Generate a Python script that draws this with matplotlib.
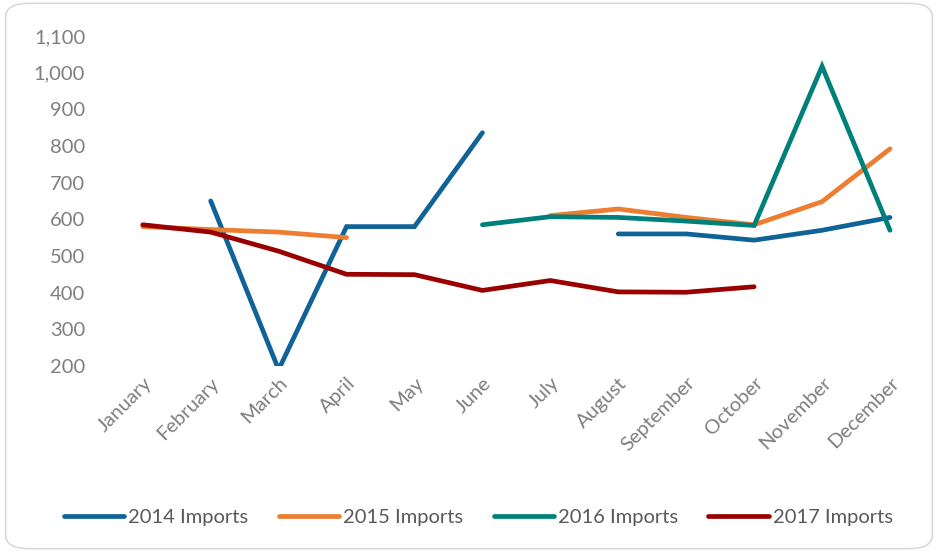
import numpy as np
import matplotlib
matplotlib.use("Agg")
import matplotlib.pyplot as plt
from matplotlib.patches import FancyBboxPatch

months = ["January", "February", "March", "April", "May", "June", "July",
          "August", "September", "October", "November", "December"]
nan = np.nan
imports_2014 = [nan, 650, 190, 580, 580, 836, nan, 560, 560, 543, 570, 605]
imports_2015 = [580, 572, 565, 550, nan, nan, 610, 628, 605, 585, 648, 792]
imports_2016 = [nan, nan, nan, nan, nan, 585, 607, 605, 595, 583, 1017, 570]
imports_2017 = [585, 565, 513, 450, 449, 406, 433, 402, 401, 416, nan, nan]

series = [("2014 Imports", imports_2014, "#0F6397"),
          ("2015 Imports", imports_2015, "#ED7D31"),
          ("2016 Imports", imports_2016, "#00807A"),
          ("2017 Imports", imports_2017, "#990000")]

plt.rcParams['font.family'] = ['Lato', 'DejaVu Sans']
fig = plt.figure(figsize=(9.38, 5.52), dpi=100)
ax = fig.add_axes([0.116, 0.337, 0.869, 0.598])

x = np.arange(len(months))
for name, vals, col in series:
    ax.plot(x, vals, color=col, lw=3.4, solid_capstyle='round',
            solid_joinstyle='miter', label=name)

ax.set_xlim(-0.5, 11.5)
ax.set_ylim(200, 1100)
ax.set_yticks(range(200, 1101, 100))
ax.set_yticklabels([f"{v:,}" for v in range(200, 1101, 100)])
ax.set_xticks(x)
ax.set_xticklabels(months, rotation=45, ha='right', rotation_mode='anchor')
for s in ax.spines.values():
    s.set_visible(False)
ax.tick_params(axis='both', length=0, colors='#7F7F7F', labelsize=14.5)
ax.tick_params(axis='y', pad=17)
ax.tick_params(axis='x', pad=6)

leg = fig.legend(loc='center', bbox_to_anchor=(0.51, 0.063), ncol=4, frameon=False,
                 fontsize=14.5, handlelength=3.0, handletextpad=0.2, columnspacing=1.5)
for t in leg.get_texts():
    t.set_color('#595959')

border = FancyBboxPatch((0.006, 0.006), 0.988, 0.988, boxstyle="round,pad=0,rounding_size=0.025",
                        transform=fig.transFigure, fill=False, edgecolor='#D9D9D9', lw=1.2)
fig.patches.append(border)

fig.savefig("out.png", dpi=100)
